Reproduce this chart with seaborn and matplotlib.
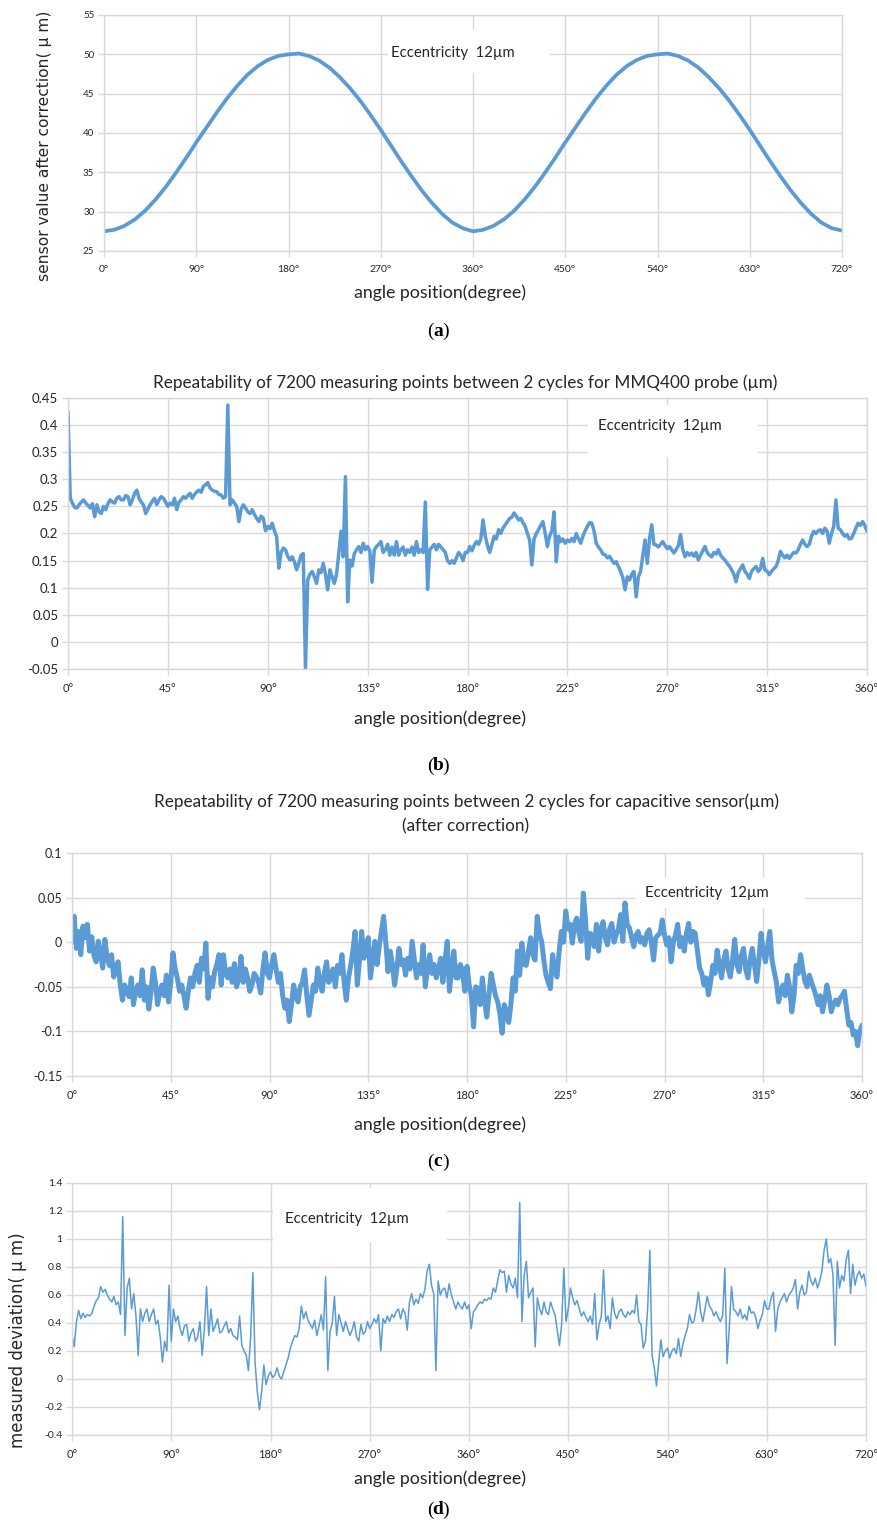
import numpy as np
import pandas as pd
import seaborn as sns
import matplotlib.pyplot as plt
from matplotlib.patches import Rectangle

# ---- values ----

# (a) sensor value after correction, one reading every 10 degrees
a_step = 10
a_sensor = [
    27.5, 27.7, 28.2, 29.0, 30.1, 31.5, 33.1, 34.9, 36.8, 38.8,
    40.7, 42.6, 44.4, 46.0, 47.4, 48.5, 49.3, 49.8, 50.0, 50.1,
    49.8, 49.2, 48.3, 47.1, 45.7, 44.1, 42.3, 40.4, 38.4, 36.4,
    34.5, 32.7, 31.1, 29.7, 28.6, 27.9, 27.5, 27.7, 28.2, 29.0,
    30.1, 31.5, 33.1, 34.9, 36.8, 38.8, 40.7, 42.6, 44.4, 46.0,
    47.4, 48.5, 49.3, 49.8, 50.0, 50.1, 49.8, 49.2, 48.3, 47.1,
    45.7, 44.1, 42.3, 40.4, 38.4, 36.4, 34.5, 32.7, 31.1, 29.7,
    28.6, 27.9, 27.6,
]

# (b) MMQ400 probe repeatability, one reading per degree
b_step = 1
b_repeat = [
    0.425, 0.265, 0.256, 0.248, 0.247, 0.253, 0.258, 0.262, 0.256, 0.252,
    0.247, 0.255, 0.231, 0.253, 0.240, 0.237, 0.250, 0.244, 0.255, 0.262,
    0.258, 0.256, 0.265, 0.268, 0.262, 0.262, 0.270, 0.268, 0.253, 0.262,
    0.274, 0.280, 0.265, 0.258, 0.253, 0.237, 0.245, 0.253, 0.260, 0.265,
    0.253, 0.262, 0.268, 0.265, 0.258, 0.250, 0.256, 0.253, 0.265, 0.244,
    0.258, 0.262, 0.268, 0.265, 0.270, 0.274, 0.265, 0.272, 0.277, 0.280,
    0.276, 0.287, 0.290, 0.294, 0.284, 0.280, 0.278, 0.277, 0.272, 0.271,
    0.265, 0.268, 0.437, 0.253, 0.262, 0.256, 0.250, 0.222, 0.245, 0.253,
    0.247, 0.240, 0.237, 0.244, 0.235, 0.228, 0.222, 0.232, 0.228, 0.205,
    0.213, 0.209, 0.219, 0.205, 0.194, 0.136, 0.165, 0.173, 0.170, 0.158,
    0.151, 0.157, 0.148, 0.133, 0.145, 0.160, 0.163, -0.050, 0.114, 0.125,
    0.130, 0.120, 0.108, 0.133, 0.128, 0.145, 0.125, 0.096, 0.133, 0.120,
    0.108, 0.125, 0.163, 0.204, 0.157, 0.305, 0.074, 0.151, 0.140, 0.163,
    0.170, 0.176, 0.165, 0.182, 0.170, 0.176, 0.168, 0.110, 0.170, 0.176,
    0.180, 0.185, 0.165, 0.170, 0.180, 0.160, 0.175, 0.160, 0.185, 0.160,
    0.170, 0.175, 0.160, 0.170, 0.165, 0.175, 0.160, 0.185, 0.165, 0.170,
    0.165, 0.258, 0.097, 0.170, 0.175, 0.180, 0.170, 0.180, 0.175, 0.170,
    0.165, 0.150, 0.145, 0.150, 0.145, 0.155, 0.165, 0.160, 0.150, 0.165,
    0.165, 0.176, 0.168, 0.178, 0.185, 0.180, 0.190, 0.225, 0.195, 0.178,
    0.165, 0.180, 0.195, 0.190, 0.207, 0.200, 0.210, 0.216, 0.222, 0.228,
    0.230, 0.238, 0.232, 0.225, 0.228, 0.220, 0.213, 0.200, 0.188, 0.142,
    0.190, 0.200, 0.207, 0.215, 0.222, 0.200, 0.176, 0.195, 0.205, 0.240,
    0.148, 0.195, 0.185, 0.190, 0.182, 0.188, 0.185, 0.191, 0.185, 0.200,
    0.190, 0.182, 0.195, 0.205, 0.213, 0.220, 0.219, 0.205, 0.182, 0.175,
    0.170, 0.162, 0.161, 0.155, 0.158, 0.151, 0.145, 0.148, 0.139, 0.130,
    0.118, 0.096, 0.120, 0.114, 0.125, 0.130, 0.083, 0.120, 0.130, 0.160,
    0.188, 0.145, 0.190, 0.216, 0.180, 0.179, 0.175, 0.180, 0.185, 0.178,
    0.172, 0.176, 0.170, 0.164, 0.170, 0.178, 0.198, 0.170, 0.157, 0.165,
    0.160, 0.164, 0.158, 0.165, 0.151, 0.160, 0.168, 0.176, 0.165, 0.160,
    0.157, 0.165, 0.162, 0.170, 0.160, 0.155, 0.151, 0.145, 0.140, 0.133,
    0.125, 0.111, 0.128, 0.135, 0.142, 0.130, 0.125, 0.117, 0.130, 0.135,
    0.139, 0.130, 0.135, 0.154, 0.133, 0.130, 0.124, 0.130, 0.135, 0.139,
    0.150, 0.167, 0.160, 0.155, 0.160, 0.154, 0.160, 0.165, 0.164, 0.170,
    0.180, 0.188, 0.180, 0.176, 0.180, 0.195, 0.204, 0.200, 0.205, 0.207,
    0.200, 0.210, 0.205, 0.182, 0.200, 0.213, 0.262, 0.210, 0.207, 0.200,
    0.195, 0.198, 0.190, 0.191, 0.200, 0.210, 0.219, 0.215, 0.222, 0.215,
    0.204,
]

# (c) capacitive sensor repeatability, one reading per degree
c_step = 1
c_repeat = [
    0.000, 0.029, -0.007, 0.012, -0.014, 0.018, 0.005, 0.020, -0.010, 0.006,
    -0.015, -0.022, 0.001, -0.012, -0.029, 0.003, -0.018, -0.026, -0.014, -0.039,
    -0.030, -0.022, -0.048, -0.065, -0.048, -0.055, -0.061, -0.040, -0.070, -0.055,
    -0.048, -0.060, -0.031, -0.065, -0.050, -0.075, -0.055, -0.029, -0.045, -0.070,
    -0.055, -0.048, -0.060, -0.037, -0.067, -0.045, -0.012, -0.030, -0.040, -0.055,
    -0.048, -0.060, -0.074, -0.055, -0.040, -0.050, -0.035, -0.026, -0.045, -0.018,
    -0.030, -0.001, -0.063, -0.040, -0.050, -0.033, -0.025, -0.014, -0.048, -0.014,
    -0.035, -0.040, -0.030, -0.045, -0.024, -0.050, -0.040, -0.016, -0.045, -0.030,
    -0.040, -0.055, -0.048, -0.035, -0.039, -0.045, -0.057, -0.030, -0.012, -0.035,
    -0.040, -0.025, -0.014, -0.030, -0.045, -0.035, -0.060, -0.074, -0.065, -0.089,
    -0.070, -0.048, -0.060, -0.067, -0.050, -0.045, -0.031, -0.060, -0.082, -0.065,
    -0.048, -0.055, -0.029, -0.045, -0.055, -0.035, -0.022, -0.045, -0.040, -0.030,
    -0.050, -0.026, -0.035, -0.014, -0.045, -0.065, -0.040, -0.026, -0.010, 0.012,
    -0.048, -0.020, 0.012, -0.018, -0.005, 0.005, -0.040, -0.020, 0.001, -0.025,
    -0.005, 0.012, 0.029, 0.000, -0.033, -0.010, -0.025, -0.048, -0.030, -0.007,
    -0.025, -0.020, -0.037, -0.018, -0.030, 0.001, -0.020, -0.040, -0.025, -0.035,
    -0.003, -0.050, -0.030, -0.014, -0.035, -0.025, -0.040, -0.030, -0.018, -0.045,
    -0.020, 0.001, -0.055, -0.030, -0.010, -0.040, -0.040, -0.025, -0.033, -0.055,
    -0.027, -0.048, -0.060, -0.095, -0.050, -0.052, -0.070, -0.040, -0.065, -0.084,
    -0.060, -0.035, -0.048, -0.060, -0.067, -0.080, -0.102, -0.070, -0.078, -0.090,
    -0.070, -0.040, -0.055, -0.010, -0.037, -0.001, -0.025, -0.026, -0.010, 0.005,
    -0.014, -0.020, 0.029, 0.010, 0.001, -0.020, -0.037, -0.045, -0.052, -0.014,
    -0.030, -0.039, -0.010, 0.012, 0.000, 0.035, 0.015, 0.020, -0.001, 0.020,
    0.027, 0.010, 0.001, 0.055, 0.025, -0.018, 0.010, 0.008, -0.005, 0.020,
    -0.010, 0.015, 0.023, 0.005, -0.003, 0.015, 0.021, 0.000, 0.008, 0.015,
    0.031, 0.001, 0.044, 0.020, 0.016, 0.005, -0.005, 0.008, 0.012, 0.000,
    0.005, -0.003, 0.010, 0.014, 0.000, -0.020, 0.005, 0.008, 0.010, 0.025,
    0.008, -0.003, 0.005, -0.022, 0.000, 0.008, 0.020, -0.005, 0.005, -0.010,
    0.010, 0.021, 0.000, 0.012, 0.010, -0.010, -0.029, -0.035, -0.048, -0.040,
    -0.059, -0.045, -0.026, -0.035, -0.009, -0.025, -0.040, -0.020, -0.010, -0.030,
    -0.039, -0.020, 0.003, -0.025, -0.033, -0.015, -0.007, -0.030, -0.040, -0.020,
    -0.007, -0.025, -0.044, -0.020, 0.010, -0.010, -0.022, -0.005, 0.012, -0.020,
    -0.033, -0.045, -0.067, -0.055, -0.048, -0.060, -0.037, -0.050, -0.078, -0.060,
    -0.026, -0.035, -0.014, -0.030, -0.044, -0.050, -0.037, -0.045, -0.052, -0.060,
    -0.070, -0.060, -0.078, -0.065, -0.048, -0.060, -0.078, -0.070, -0.065, -0.070,
    -0.063, -0.060, -0.055, -0.075, -0.093, -0.090, -0.104, -0.100, -0.116, -0.100,
    -0.093,
]

# (d) measured deviation, one reading every 2 degrees
d_step = 2
d_deviation = [
    0.31, 0.23, 0.41, 0.49, 0.43, 0.47, 0.44, 0.46, 0.45, 0.47,
    0.52, 0.56, 0.58, 0.66, 0.62, 0.64, 0.60, 0.57, 0.55, 0.59,
    0.53, 0.55, 0.46, 1.16, 0.31, 0.65, 0.72, 0.50, 0.61, 0.45,
    0.17, 0.50, 0.41, 0.47, 0.50, 0.41, 0.46, 0.50, 0.39, 0.42,
    0.30, 0.12, 0.27, 0.20, 0.67, 0.27, 0.50, 0.41, 0.45, 0.36,
    0.31, 0.38, 0.39, 0.27, 0.33, 0.36, 0.27, 0.30, 0.41, 0.17,
    0.35, 0.66, 0.31, 0.50, 0.34, 0.38, 0.43, 0.33, 0.34, 0.38,
    0.41, 0.33, 0.36, 0.31, 0.30, 0.28, 0.45, 0.24, 0.20, 0.17,
    0.06, 0.30, 0.76, 0.12, -0.09, -0.22, -0.09, 0.10, -0.04, 0.02,
    0.05, 0.01, 0.03, 0.08, 0.02, 0.00, 0.05, 0.10, 0.15, 0.22,
    0.27, 0.31, 0.30, 0.36, 0.52, 0.43, 0.48, 0.42, 0.39, 0.36,
    0.42, 0.31, 0.38, 0.46, 0.35, 0.73, 0.06, 0.34, 0.40, 0.59,
    0.31, 0.46, 0.40, 0.34, 0.41, 0.36, 0.31, 0.35, 0.41, 0.30,
    0.27, 0.39, 0.32, 0.34, 0.41, 0.36, 0.39, 0.43, 0.40, 0.46,
    0.20, 0.43, 0.40, 0.45, 0.41, 0.46, 0.44, 0.48, 0.50, 0.43,
    0.50, 0.47, 0.35, 0.55, 0.61, 0.53, 0.57, 0.54, 0.61, 0.58,
    0.64, 0.77, 0.82, 0.67, 0.61, 0.06, 0.70, 0.60, 0.64, 0.65,
    0.58, 0.68, 0.60, 0.55, 0.50, 0.55, 0.52, 0.50, 0.55, 0.50,
    0.53, 0.36, 0.48, 0.50, 0.53, 0.55, 0.54, 0.57, 0.56, 0.58,
    0.57, 0.65, 0.62, 0.70, 0.78, 0.76, 0.77, 0.62, 0.74, 0.68,
    0.65, 0.72, 0.58, 1.26, 0.41, 0.74, 0.84, 0.58, 0.62, 0.65,
    0.23, 0.58, 0.50, 0.46, 0.55, 0.48, 0.46, 0.55, 0.50, 0.46,
    0.35, 0.24, 0.39, 0.79, 0.41, 0.50, 0.65, 0.58, 0.53, 0.56,
    0.50, 0.45, 0.48, 0.44, 0.41, 0.45, 0.39, 0.61, 0.28, 0.39,
    0.45, 0.78, 0.41, 0.45, 0.36, 0.58, 0.47, 0.43, 0.48, 0.50,
    0.46, 0.44, 0.48, 0.46, 0.49, 0.47, 0.60, 0.41, 0.39, 0.22,
    0.27, 0.50, 0.92, 0.17, 0.08, -0.05, 0.12, 0.28, 0.16, 0.20,
    0.22, 0.15, 0.20, 0.22, 0.18, 0.29, 0.16, 0.25, 0.31, 0.36,
    0.46, 0.40, 0.41, 0.50, 0.62, 0.48, 0.41, 0.50, 0.59, 0.52,
    0.50, 0.45, 0.48, 0.44, 0.41, 0.45, 0.79, 0.11, 0.36, 0.66,
    0.50, 0.48, 0.45, 0.50, 0.43, 0.46, 0.42, 0.52, 0.47, 0.48,
    0.44, 0.36, 0.42, 0.46, 0.56, 0.50, 0.50, 0.58, 0.62, 0.34,
    0.50, 0.55, 0.58, 0.61, 0.55, 0.60, 0.62, 0.65, 0.71, 0.50,
    0.62, 0.67, 0.60, 0.62, 0.77, 0.70, 0.67, 0.72, 0.65, 0.70,
    0.77, 0.92, 1.00, 0.83, 0.86, 0.75, 0.24, 0.84, 0.65, 0.74,
    0.70, 0.85, 0.92, 0.61, 0.82, 0.67, 0.74, 0.77, 0.72, 0.75,
    0.66,
]

# ticks and labels
x720_ticks = [0, 90, 180, 270, 360, 450, 540, 630, 720]
x360_ticks = [0, 45, 90, 135, 180, 225, 270, 315, 360]
a_yticks = [25, 30, 35, 40, 45, 50, 55]
a_ylabels = ["25", "30", "35", "40", "45", "50", "55"]
b_yticks = [-0.05, 0, 0.05, 0.1, 0.15, 0.2, 0.25, 0.3, 0.35, 0.4, 0.45]
b_ylabels = ["-0.05", "0", "0.05", "0.1", "0.15", "0.2", "0.25", "0.3", "0.35", "0.4", "0.45"]
c_yticks = [-0.15, -0.1, -0.05, 0, 0.05, 0.1]
c_ylabels = ["-0.15", "-0.1", "-0.05", "0", "0.05", "0.1"]
d_yticks = [-0.4, -0.2, 0, 0.2, 0.4, 0.6, 0.8, 1.0, 1.2, 1.4]
d_ylabels = ["-0.4", "-0.2", "0", "0.2", "0.4", "0.6", "0.8", "1", "1.2", "1.4"]

assert len(a_sensor) == 73 and len(b_repeat) == 361
assert len(c_repeat) == 361 and len(d_deviation) == 361

# ---- figure ----
sns.set_theme(style="white")
plt.rcParams['font.family'] = ['Lato', 'DejaVu Sans']

W, H = 877, 1523
BLUE = "#5b9bd5"
GRID = "#d9d9d9"
TXT = "#262626"
fig = plt.figure(figsize=(W / 100, H / 100), dpi=100)


def px_axes(left, top, right, bottom):
    return fig.add_axes([left / W, 1 - bottom / H, (right - left) / W, (bottom - top) / H])


def ftext(x, y, s, **kw):
    fig.text(x / W, 1 - y / H, s, ha="center", va="center", color=TXT, **kw)


def frame(ax, xt, yt, ylabels, ysize, xsize):
    ax.set_xlim(xt[0], xt[-1])
    ax.set_ylim(yt[0], yt[-1])
    ax.set_xticks(xt)
    ax.set_xticklabels([f"{v}°" for v in xt])
    ax.set_yticks(yt)
    ax.set_yticklabels(ylabels)
    ax.grid(True, color=GRID, linewidth=1)
    ax.set_axisbelow(True)
    for s in ax.spines.values():
        s.set_color(GRID)
        s.set_linewidth(1)
    ax.tick_params(axis="both", length=4, width=1, color=GRID, labelcolor=TXT,
                   direction="out", bottom=True, left=True)
    ax.tick_params(axis="x", pad=6, labelsize=xsize)
    ax.tick_params(axis="y", pad=3, labelsize=ysize)
    ax.set_xlabel("")
    ax.set_ylabel("")


def ecc_box(ax, x0, y0, w, h, tx, ty):
    ax.add_patch(Rectangle((x0, y0), w, h, transform=ax.transAxes,
                           facecolor="white", edgecolor="none", zorder=1.5))
    ax.text(tx, ty, "Eccentricity  12µm", transform=ax.transAxes,
            ha="center", va="center", fontsize=10.7, color=TXT, zorder=3)


def panel_df(values, step):
    return pd.DataFrame({"angle": np.arange(len(values)) * step, "value": values})


def sublabel(y, letter):
    fig.text(433.5 / W, 1 - y / H, "(", ha="right", va="center", fontsize=14,
             color="black", family=["Liberation Serif"])
    fig.text(438 / W, 1 - y / H, letter, ha="center", va="center", fontsize=14,
             color="black", fontweight="bold", family=["Liberation Serif"])
    fig.text(442.5 / W, 1 - y / H, ")", ha="left", va="center", fontsize=14,
             color="black", family=["Liberation Serif"])


# (a)
ax_a = px_axes(104, 15, 842, 251)
sns.lineplot(data=panel_df(a_sensor, a_step), x="angle", y="value", ax=ax_a,
             color=BLUE, linewidth=2.7, zorder=2)
frame(ax_a, x720_ticks, a_yticks, a_ylabels, 7, 7.5)
ecc_box(ax_a, 0.385, 0.754, 0.219, 0.182, 0.473, 0.839)
fig.text(45 / W, 1 - 146 / H, "sensor value after correction( μ m)", rotation=90,
         ha="center", va="center", fontsize=11.2, color=TXT, family=["DejaVu Sans"])
ftext(440, 293, "angle position(degree)", fontsize=12.8)
sublabel(331, "a")

# (b)
ax_b = px_axes(68, 398, 867, 669)
sns.lineplot(data=panel_df(b_repeat, b_step), x="angle", y="value", ax=ax_b,
             color=BLUE, linewidth=2.5, zorder=2)
frame(ax_b, x360_ticks, b_yticks, b_ylabels, 9.5, 8)
ecc_box(ax_b, 0.651, 0.783, 0.212, 0.192, 0.741, 0.898)
ftext(465, 383, "Repeatability of 7200 measuring points between 2 cycles for MMQ400 probe (µm)",
      fontsize=12.3)
ftext(440, 719, "angle position(degree)", fontsize=12.8)
sublabel(766, "b")

# (c)
ax_c = px_axes(72, 853, 862, 1076)
sns.lineplot(data=panel_df(c_repeat, c_step), x="angle", y="value", ax=ax_c,
             color=BLUE, linewidth=3.6, zorder=2)
frame(ax_c, x360_ticks, c_yticks, c_ylabels, 9, 8)
ecc_box(ax_c, 0.713, 0.754, 0.215, 0.135, 0.8035, 0.82)
ftext(466, 802, "Repeatability of 7200 measuring points between 2 cycles for capacitive sensor(µm)",
      fontsize=12.3)
ftext(466, 826, "(after correction)", fontsize=12.3)
ftext(440, 1125, "angle position(degree)", fontsize=12.8)
sublabel(1162, "c")

# (d)
ax_d = px_axes(72, 1183, 866, 1435)
sns.lineplot(data=panel_df(d_deviation, d_step), x="angle", y="value", ax=ax_d,
             color=BLUE, linewidth=1.1, zorder=2)
frame(ax_d, x720_ticks, d_yticks, d_ylabels, 7.5, 8)
ecc_box(ax_d, 0.253, 0.767, 0.219, 0.214, 0.346, 0.858)
fig.text(18 / W, 1 - 1340 / H, "measured deviation( μ m)", rotation=90,
         ha="center", va="center", fontsize=12, color=TXT, family=["DejaVu Sans"])
ftext(440, 1479, "angle position(degree)", fontsize=12.8)
sublabel(1510, "d")

fig.savefig("out.png", dpi=100, facecolor="white")
